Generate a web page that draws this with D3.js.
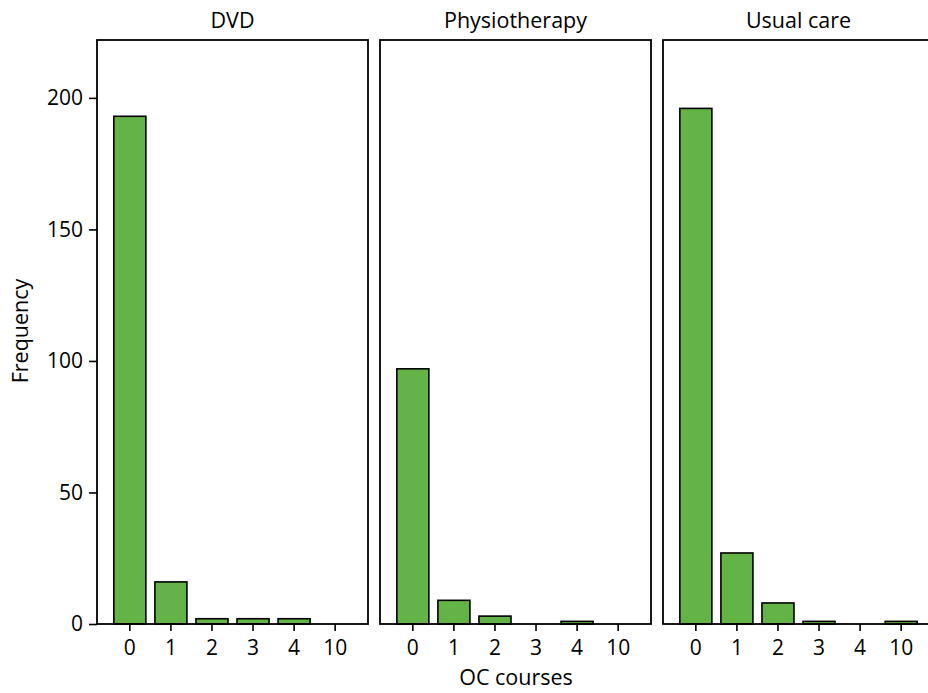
<!DOCTYPE html>
<html><head><meta charset="utf-8">
<script src="https://cdn.jsdelivr.net/npm/d3@7"></script>
<style>body{margin:0;background:#fff}svg{display:block}text{font-family:"Open Sans",sans-serif;fill:#000}</style>
</head><body>
<script>
const categories = ["0","1","2","3","4","10"];
const groups = ["DVD","Physiotherapy","Usual care"];
const dvdValues = [193,16,2,2,2,0];
const physioValues = [97,9,3,0,1,0];
const usualValues = [196,27,8,1,0,1];
const yTicks = [0,50,100,150,200];
const seriesValues = [dvdValues, physioValues, usualValues];

(function () {
const W = 928, H = 693;
const svg = d3.select("body").append("svg").attr("width", W).attr("height", H);
const pTop = 40, pBottom = 624, panelW = 271, gap = 12, left0 = 97;
const y = d3.scaleLinear().domain([0, 222]).range([pBottom, pTop]);
const tickFont = 21, labelFont = 21.5;

groups.forEach((g, i) => {
  const x0 = left0 + i * (panelW + gap);
  const x = d3.scaleBand().domain(categories).range([x0, x0 + panelW]).paddingInner(0.22).paddingOuter(0.41);
  const gp = svg.append("g");
  gp.selectAll("rect.bar").data(categories.map((c, k) => ({c, v: seriesValues[i][k]})).filter(d => d.v > 0))
    .join("rect").attr("class","bar")
    .attr("x", d => x(d.c)).attr("width", x.bandwidth())
    .attr("y", d => y(d.v)).attr("height", d => y(0) - y(d.v))
    .attr("fill", "#63b346").attr("stroke", "#000").attr("stroke-width", 1.6);
  gp.append("rect").attr("x", x0).attr("y", pTop).attr("width", panelW).attr("height", pBottom - pTop)
    .attr("fill", "none").attr("stroke", "#000").attr("stroke-width", 1.8);
  const ax = gp.append("g").attr("transform", `translate(0,${pBottom})`)
    .call(d3.axisBottom(x).tickSize(7).tickPadding(9).tickSizeOuter(0));
  ax.select(".domain").remove();
  ax.selectAll("line").attr("stroke", "#000").attr("stroke-width", 1.6);
  ax.selectAll("text").attr("font-size", tickFont).style("font-family", '"Open Sans",sans-serif');
  gp.append("text").attr("x", x0 + panelW / 2).attr("y", 28).attr("text-anchor", "middle")
    .attr("font-size", labelFont).text(g);
});

const ay = svg.append("g").attr("transform", `translate(${left0},0)`)
  .call(d3.axisLeft(y).tickValues(yTicks).tickSize(8).tickPadding(6).tickSizeOuter(0));
ay.select(".domain").remove();
ay.selectAll("line").attr("stroke", "#000").attr("stroke-width", 1.6);
ay.selectAll("text").attr("font-size", tickFont).style("font-family", '"Open Sans",sans-serif');

svg.append("text").attr("transform", `translate(28,331) rotate(-90)`)
  .attr("text-anchor", "middle").attr("font-size", labelFont).text("Frequency");
svg.append("text").attr("x", 516).attr("y", 685).attr("text-anchor", "middle")
  .attr("font-size", labelFont).text("OC courses");
})();
</script>
</body></html>
